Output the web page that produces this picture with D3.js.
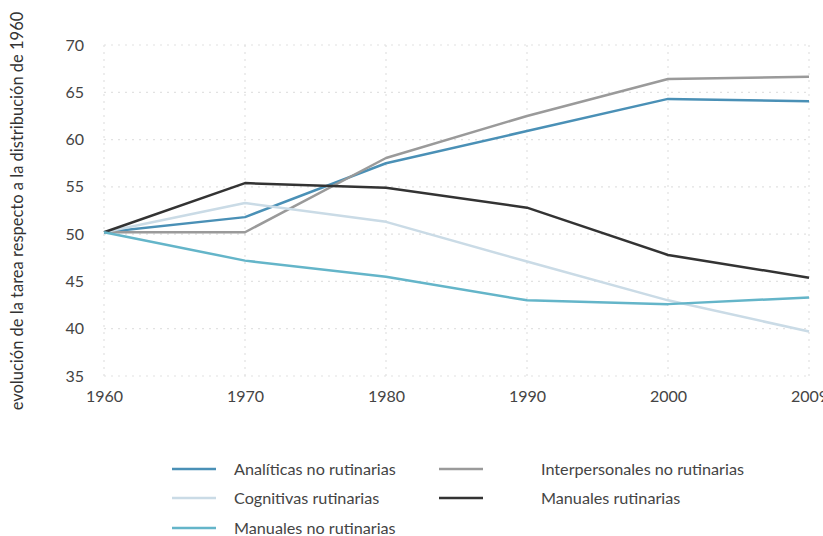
<!DOCTYPE html>
<html><head><meta charset="utf-8">
<script src="https://cdn.jsdelivr.net/npm/d3@7"></script>
<style>body{margin:0;background:#fff}svg{display:block}</style>
</head><body><div id="c"></div>
<script>
const years = ["1960","1970","1980","1990","2000","2009"];
const yTicks = [35,40,45,50,55,60,65,70];
const analiticas = [50.2,51.8,57.5,60.9,64.3,64.05];
const interpersonales = [50.2,50.2,58.05,62.5,66.4,66.65];
const cognitivas = [50.2,53.3,51.3,47.1,43.0,39.7];
const manualesRut = [50.2,55.4,54.9,52.8,47.8,45.4];
const manualesNoRut = [50.2,47.2,45.5,43.0,42.6,43.3];
const seriesNames = ["Analíticas no rutinarias","Interpersonales no rutinarias","Cognitivas rutinarias","Manuales rutinarias","Manuales no rutinarias"];
const seriesValues = [analiticas, interpersonales, cognitivas, manualesRut, manualesNoRut];
const colors = ["#4a90b6","#9a9a9a","#cadbe6","#333333","#64b5c9"];
const yTitle = "evolución de la tarea respecto a la distribución de 1960";

const W=823,H=536;
const svg=d3.select("#c").append("svg").attr("width",W).attr("height",H);
const font="Lato, 'Open Sans', sans-serif";
const x=d3.scalePoint().domain(years).range([104,809]);
const y=d3.scaleLinear().domain([35,70]).range([376,45]);

// grid
const g=svg.append("g");
g.selectAll(".hg").data(yTicks).join("line").attr("x1",104).attr("x2",809)
 .attr("y1",d=>y(d)).attr("y2",d=>y(d)).attr("stroke","#e2e2e2").attr("stroke-width",1.2).attr("stroke-dasharray","2,5");
g.selectAll(".vg").data(years).join("line").attr("x1",d=>x(d)).attr("x2",d=>x(d))
 .attr("y1",45).attr("y2",376).attr("stroke","#e2e2e2").attr("stroke-width",1.2).attr("stroke-dasharray","2,5");

// axes
const ya=svg.append("g").attr("transform","translate(104,0)").call(d3.axisLeft(y).tickValues(yTicks).tickSize(0).tickPadding(20));
ya.select(".domain").remove();
ya.selectAll("text").attr("font-family",font).attr("font-size",16).attr("fill","#444");
const xa=svg.append("g").attr("transform","translate(0,376)").call(d3.axisBottom(x).tickSize(0).tickPadding(15));
xa.select(".domain").remove();
xa.selectAll("text").attr("font-family",font).attr("font-size",16).attr("fill","#444");

svg.append("text").attr("transform","translate(17,211) rotate(-90)").attr("text-anchor","middle")
 .attr("dy","0.35em").attr("font-family",font).attr("font-size",16.5).attr("fill","#333").text(yTitle);

// lines
const line=d3.line().x((d,i)=>x(years[i])).y(d=>y(d));
svg.selectAll(".ln").data(seriesValues).join("path").attr("d",line).attr("fill","none")
 .attr("stroke",(d,i)=>colors[i]).attr("stroke-width",2.5).attr("stroke-linejoin","round");

// legend
const lpos=[[172,469],[439,469],[172,498],[439,498],[172,528]];
const lg=svg.append("g");
seriesNames.forEach((name,k)=>{
  const [lx,ly]=lpos[k];
  lg.append("line").attr("x1",lx).attr("x2",lx+44).attr("y1",ly).attr("y2",ly).attr("stroke",colors[k]).attr("stroke-width",2.5);
  lg.append("text").attr("x",lx+(k%2?102:62)).attr("y",ly).attr("dy","0.35em").attr("font-family",font).attr("font-size",16.2).attr("fill","#444").text(name);
});
</script></body></html>
